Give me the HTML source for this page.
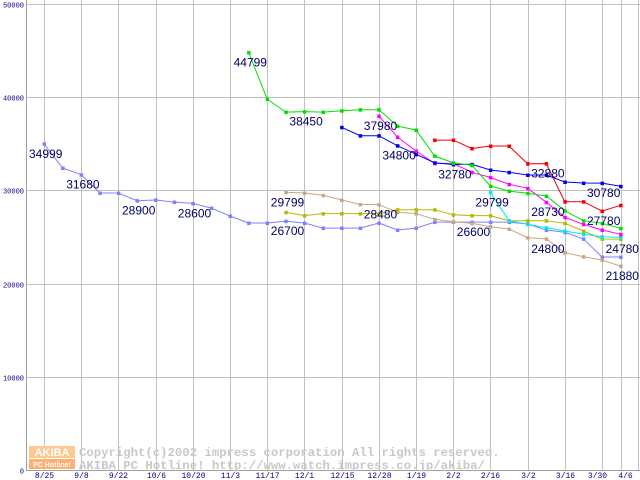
<!DOCTYPE html>
<html><head><meta charset="utf-8"><style>
html,body{margin:0;padding:0;background:#fff;width:640px;height:480px;overflow:hidden}
svg{display:block}
</style></head><body>
<svg id="chart" width="640" height="480" xmlns="http://www.w3.org/2000/svg"></svg>
<script>
const xTickLabels = ["8/25","9/8","9/22","10/6","10/20","11/3","11/17","12/1","12/15","12/28","1/19","2/2","2/16","3/2","3/16","3/30","4/6"];
const xTickIdx = [0,2,4,6,8,10,12,14,16,18,20,22,24,26,28,30,31];
const yTicks = [0,10000,20000,30000,40000,50000];
const periwinkle = [34999,32400,31680,29720,29720,28900,28970,28750,28600,28100,27250,26500,26500,26700,26500,25960,25960,25960,26500,25750,25960,26600,26600,26600,26600,26600,26400,25750,25500,24800,22850,22850];
const green = [null,null,null,null,null,null,null,null,null,null,null,44799,39800,38400,38450,38400,38550,38660,38660,36900,36480,33700,32950,32700,30470,29930,29690,29400,27820,26750,26470,25930];
const blue = [null,null,null,null,null,null,null,null,null,null,null,null,null,null,null,null,36770,35870,35870,34800,33870,32970,32780,32800,32190,31940,31650,31650,30900,30790,30780,30440];
const magenta = [null,null,null,null,null,null,null,null,null,null,null,null,null,null,null,null,null,null,37980,35730,34230,32900,32900,31940,31400,30650,30220,28730,27110,26360,25750,25290];
const red = [null,null,null,null,null,null,null,null,null,null,null,null,null,null,null,null,null,null,null,null,null,35400,35400,34500,34760,34760,32870,32880,28790,28790,27780,28400];
const cyan = [null,null,null,null,null,null,null,null,null,null,null,null,null,null,null,null,null,null,null,null,null,null,null,null,29799,26750,26360,26000,25640,25290,25030,24970];
const olive = [null,null,null,null,null,null,null,null,null,null,null,null,null,27650,27300,27510,27510,27510,27510,27930,27930,27930,27390,27300,27300,26750,26750,26750,26470,25640,24790,24780];
const tan = [null,null,null,null,null,null,null,null,null,null,null,null,null,29799,29720,29470,28970,28500,28480,27650,27510,26900,26640,26470,26110,25860,24930,24800,23320,22890,22530,21880];
const seriesData = [periwinkle,tan,olive,cyan,red,magenta,blue,green];
const seriesNames = ["periwinkle","tan","olive","cyan","red","magenta","blue","green"];
const seriesColors = ["#8080ff","#c8a882","#b8b800","#00e8f0","#f00000","#ff00ff","#0000f0","#00e000"];
// labels: [series index, point index]
const labelSeries = [0,0,0,0,0,0,7,7,5,6,6,6,4,4,3,5,1,1,1,2,1];
const labelPoint  = [0,2,5,8,13,23,11,14,18,19,22,30,27,30,24,27,13,18,27,31,31];

const svg = document.getElementById('chart');
const NS = 'http://www.w3.org/2000/svg';
const X0 = 44, DX = 18.6, Y0 = 470, SY = 0.00932;
const xs = i => X0 + DX * i;
const ys = v => Y0 - v * SY;
function mk(tag, attrs, parent){const e=document.createElementNS(NS,tag);for(const k in attrs)e.setAttribute(k,attrs[k]);(parent||svg).appendChild(e);return e;}

const grid = mk('g',{});


yTicks.forEach(t=>{
  const y=Math.round(ys(t))+0.5;
  mk('line',{x1:26,x2:640,y1:y,y2:y,stroke:'#c0c0c0','stroke-width':1},grid);
  const tx=mk('text',{x:24,y:y+3,'text-anchor':'end','font-family':'Liberation Mono, monospace','font-size':7,fill:'#000080'});
  tx.textContent=String(t);
  
  
});
xTickIdx.forEach((ix,k)=>{
  const x=Math.round(xs(ix))+0.5;
  mk('line',{x1:x,x2:x,y1:0,y2:470,stroke:'#c0c0c0','stroke-width':1},grid);
  const tx=mk('text',{x:ix===30?x-5:(ix===31?x+4:x),y:478,'text-anchor':'middle','font-family':'Liberation Mono, monospace','font-size':8,fill:'#000080'});
  tx.textContent=xTickLabels[k];
  
  
});
mk('line',{x1:638.5,x2:638.5,y1:0,y2:470,stroke:'#c0c0c0'},grid);
const ax=mk('path',{d:'M26.5 0V470.5H640',stroke:'#a0a0a0',fill:'none'});



// watermark
const wm=mk('g',{});


mk('rect',{x:29,y:446,width:46,height:12,fill:'#ffc890'},wm);
mk('rect',{x:29,y:459,width:46,height:10,fill:'#ffb070'},wm);
const ak=mk('text',{x:52,y:456,'text-anchor':'middle','font-family':'Liberation Sans, sans-serif','font-size':11,fill:'#fff','font-weight':'bold'},wm);ak.textContent='AKIBA';
const pc=mk('text',{x:52,y:467,'text-anchor':'middle','font-family':'Liberation Sans, sans-serif','font-size':7,fill:'#fff','font-weight':'bold'},wm);pc.textContent='PC Hotline!';
const c1=mk('text',{x:79,y:456,'font-family':'Liberation Mono, monospace','font-size':12.3,fill:'#c8c8c8','font-weight':'bold'},wm);c1.textContent='Copyright(c)2002 impress corporation All rights reserved.';
const c2=mk('text',{x:79,y:469,'font-family':'Liberation Mono, monospace','font-size':12.3,fill:'#c8c8c8','font-weight':'bold'},wm);c2.textContent='AKIBA PC Hotline!  http://www.watch.impress.co.jp/akiba/';

seriesData.forEach((arr,s)=>{
  const g=mk('g',{});
  
  
  let d='';
  arr.forEach((v,i)=>{ if(v==null)return; d+=(d?'L':'M')+xs(i).toFixed(1)+' '+ys(v).toFixed(1); });
  const p=mk('path',{d:d,fill:'none',stroke:seriesColors[s],'stroke-width':1},g);
  
  
  arr.forEach((v,i)=>{ if(v==null)return;
    const r=mk('rect',{x:xs(i)-1.5,y:ys(v)-1.5,width:3.5,height:3.5,fill:seriesColors[s]},g);
    
    
  });
});

labelSeries.forEach((s,k)=>{
  const i=labelPoint[k]; const v=seriesData[s][i];
  const t=mk('text',{x:xs(i)-15,y:ys(v)+14,'font-family':'Liberation Sans, sans-serif','font-size':12,fill:'#000066'});
  t.textContent=String(v);
  
  
});
</script>
</body></html>
